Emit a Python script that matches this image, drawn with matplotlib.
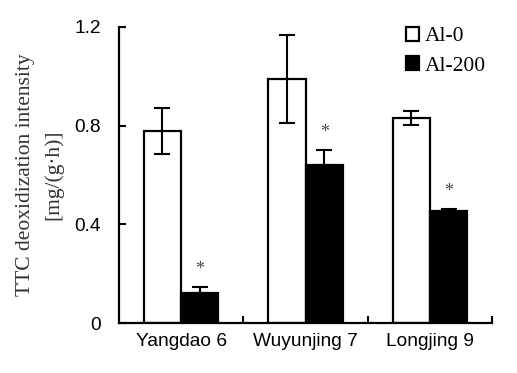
import numpy as np
import matplotlib
matplotlib.use('Agg')
import matplotlib.pyplot as plt

cultivars = ['Yangdao 6', 'Wuyunjing 7', 'Longjing 9']
al0 = [0.778, 0.989, 0.831]
al0_err = [0.093, 0.178, 0.028]
al200 = [0.122, 0.640, 0.454]
al200_err = [0.024, 0.060, 0.010]
yticks = [0, 0.4, 0.8, 1.2]
ytick_labels = ['0', '0.4', '0.8', '1.2']

serif = 'Liberation Serif'
sans = 'Liberation Sans'

fig = plt.figure(figsize=(5.17, 3.73), dpi=100)
ax = fig.add_axes([0.230, 0.134, 0.722, 0.794])

x = np.arange(len(cultivars))
w = 0.3
ax.bar(x - w / 2, al0, w, color='white', edgecolor='black', linewidth=1.6,
       label='Al-0', zorder=2)
ax.bar(x + w / 2, al200, w, color='black', edgecolor='black', linewidth=1.6,
       label='Al-200', zorder=2)
ax.errorbar(x - w / 2, al0, yerr=al0_err, fmt='none', ecolor='black',
            elinewidth=1.5, capsize=6, capthick=1.5, zorder=3)
ax.errorbar(x + w / 2, al200, yerr=[[0] * 3, al200_err], fmt='none',
            ecolor='black', elinewidth=1.5, capsize=6, capthick=1.5, zorder=3)

# significance marks
for xi, v, e in zip(x + w / 2, al200, al200_err):
    ax.text(xi, v + e + 0.07, '*', ha='center', va='center',
            fontsize=13, family=serif, color='#444444')

ax.set_xlim(-0.5, 2.5)
ax.set_ylim(0, 1.2)
ax.set_yticks(yticks)
ax.set_yticklabels(ytick_labels, family=sans, fontsize=13.8)
ax.set_xticks(x)
ax.set_xticklabels(cultivars, family=sans, fontsize=13.8)
ax.tick_params(axis='x', length=0, pad=7)
ax.set_xticks([0.5, 1.5, 2.5], minor=True)
ax.tick_params(axis='x', which='minor', direction='in', length=5, width=1.5)
ax.tick_params(axis='y', direction='in', length=5, width=1.5, pad=13)

for s in ['top', 'right']:
    ax.spines[s].set_visible(False)
for s in ['left', 'bottom']:
    ax.spines[s].set_linewidth(1.6)

ax.set_ylabel('TTC deoxidization intensity\n[mg/(g·h)]', family=serif,
              fontsize=15.5, color='#333333', labelpad=8, linespacing=1.6)

ax.legend(loc='upper right', bbox_to_anchor=(1.035, 1.065), frameon=False,
          prop={'family': serif, 'size': 15.5}, handlelength=0.6,
          handleheight=0.6, handletextpad=0.25, labelspacing=0.45)

fig.savefig('out.png', dpi=100)
